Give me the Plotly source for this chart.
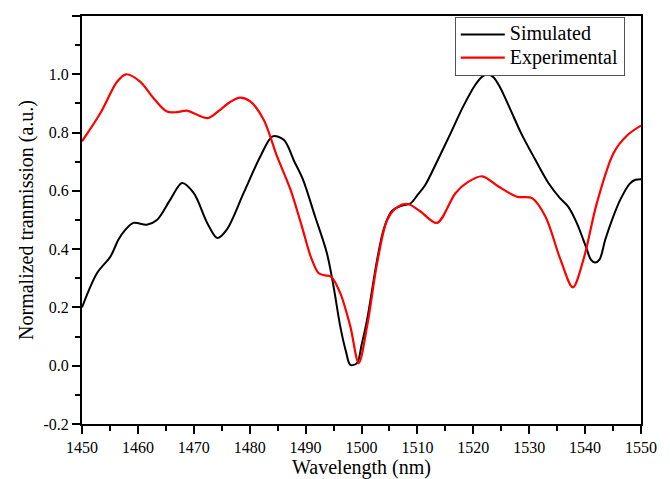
import plotly.graph_objects as go

sim_x = [1450, 1452.7, 1455.1, 1456.5, 1457.7, 1459.2, 1461.6, 1463.4, 1465.8, 1467.9, 1470.0, 1472.4, 1474.2,
         1475.9, 1478.9, 1481.9, 1484.1, 1486.1, 1488.0, 1489.5, 1491.7, 1493.8, 1495.0, 1496.2, 1497.2,
         1498.0, 1499.2, 1500.0, 1501.0, 1502.8, 1504.0, 1505.4, 1507.0, 1508.7, 1510.0, 1511.4, 1513.5,
         1516.0, 1518.2, 1520.4, 1521.6, 1522.6, 1523.6, 1524.8, 1526.5, 1528.5, 1531.0, 1533.5, 1535.5, 1537.0,
         1538.5, 1540.3, 1541.0, 1541.8, 1542.6, 1543.6, 1545.0, 1546.3, 1548.0, 1549.0, 1550]
sim_y = [0.20, 0.318, 0.375, 0.432, 0.465, 0.49, 0.484, 0.50, 0.57, 0.627, 0.592, 0.49, 0.438,
         0.467, 0.592, 0.718, 0.787, 0.775, 0.70, 0.64, 0.512, 0.387, 0.272, 0.135, 0.05,
         0.003, 0.009, 0.07, 0.158, 0.364, 0.47, 0.53, 0.548, 0.556, 0.585, 0.62, 0.70,
         0.80, 0.89, 0.965, 0.992, 1.0, 0.99, 0.955, 0.885, 0.80, 0.71, 0.625, 0.575, 0.545,
         0.49, 0.40, 0.365, 0.354, 0.365, 0.432, 0.51, 0.57, 0.625, 0.638, 0.64]

exp_x = [1450, 1453.3, 1456.3, 1457.9, 1460.4, 1462.8, 1465.2, 1467.0, 1468.8, 1470.6,
         1472.6, 1474.7, 1476.5, 1478.3, 1480.1, 1482.5, 1484.9, 1487.3, 1489.3, 1491.0, 1492.3,
         1493.5, 1494.6, 1496.2, 1498.0, 1499.5, 1501.0, 1502.8, 1504.6, 1506.4, 1508.3, 1510.5,
         1513.5, 1516.8, 1519.0, 1521.6, 1524.5, 1527.8, 1530.5, 1532.9, 1535.6, 1537.8, 1539.7,
         1542.1, 1545.1, 1547.5, 1550]
exp_y = [0.77, 0.867, 0.975, 1.0, 0.975, 0.918, 0.872, 0.87, 0.875, 0.861,
         0.85, 0.878, 0.905, 0.92, 0.907, 0.844, 0.718, 0.604, 0.48, 0.37, 0.318,
         0.31, 0.305, 0.249, 0.135, 0.009, 0.135, 0.352, 0.50, 0.544, 0.555, 0.53,
         0.49, 0.592, 0.63, 0.65, 0.615, 0.58, 0.575, 0.512, 0.364, 0.269, 0.364,
         0.558, 0.73, 0.79, 0.824]

x_ticks = [1450, 1460, 1470, 1480, 1490, 1500, 1510, 1520, 1530, 1540, 1550]
y_ticks = [-0.2, 0.0, 0.2, 0.4, 0.6, 0.8, 1.0, 1.2]

FONT = "Liberation Serif, Times New Roman, serif"

fig = go.Figure()
fig.add_trace(go.Scatter(x=sim_x, y=sim_y, mode="lines",
                         name='<span style="font-size:20px">Simulated</span>',
                         line=dict(color="black", width=2, shape="spline", smoothing=0.9)))
fig.add_trace(go.Scatter(x=exp_x, y=exp_y, mode="lines",
                         name='<span style="font-size:20px">Experimental</span>',
                         line=dict(color="#ff0000", width=2.2, shape="spline", smoothing=0.9)))

axis_common = dict(showline=True, linecolor="black", linewidth=2, mirror=True,
                   ticks="outside", ticklen=8, tickwidth=2, tickcolor="black",
                   showgrid=False, zeroline=False, automargin=False,
                   tickfont=dict(family=FONT, size=16, color="black"))

fig.update_xaxes(range=[1450, 1550], tickvals=x_ticks,
                 ticktext=[str(v) for v in x_ticks],
                 minor=dict(ticks="outside", ticklen=5, tickwidth=2, tickcolor="black", dtick=5),
                 title=dict(text="Wavelength (nm)", font=dict(family=FONT, size=20, color="black"),
                            standoff=0),
                 **axis_common)
fig.update_yaxes(range=[-0.2, 1.2], tickvals=y_ticks,
                 ticktext=[f"{v:.1f}" for v in y_ticks],
                 minor=dict(ticks="outside", ticklen=5, tickwidth=2, tickcolor="black", dtick=0.1),
                 title=dict(text="Normalized tranmission (a.u.)",
                            font=dict(family=FONT, size=20, color="black"), standoff=4),
                 **axis_common)

# page has an 8px body margin, so the figure is offset by (8, 8)
fig.update_layout(
    width=662, height=471,
    margin=dict(l=74, r=29, t=8, b=55),
    paper_bgcolor="white", plot_bgcolor="white",
    font=dict(family=FONT, color="black"),
    showlegend=True,
    legend=dict(x=0.971, y=0.998, xanchor="right", yanchor="top",
                bgcolor="white", bordercolor="#555555", borderwidth=1,
                font=dict(family=FONT, size=15.5, color="black"),
                tracegroupgap=0, itemwidth=44),
)

fig.write_html("out.html")
